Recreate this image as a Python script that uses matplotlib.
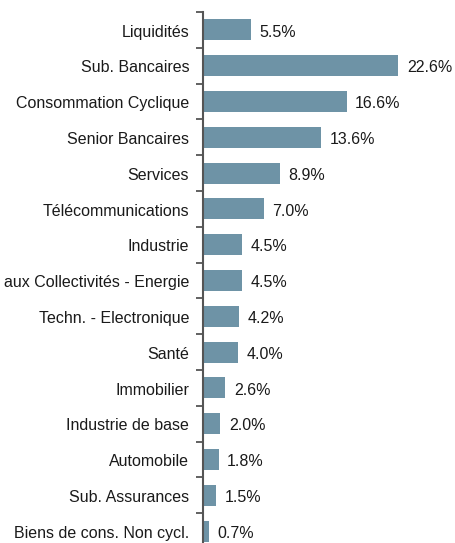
import matplotlib
matplotlib.use("Agg")
import matplotlib.pyplot as plt
import numpy as np

categories = ["Liquidités", "Sub. Bancaires", "Consommation Cyclique", "Senior Bancaires",
              "Services", "Télécommunications", "Industrie", "aux Collectivités - Energie",
              "Techn. - Electronique", "Santé", "Immobilier", "Industrie de base",
              "Automobile", "Sub. Assurances", "Biens de cons. Non cycl."]
values = [5.5, 22.6, 16.6, 13.6, 8.9, 7.0, 4.5, 4.5, 4.2, 4.0, 2.6, 2.0, 1.8, 1.5, 0.7]
value_labels = ["5.5%", "22.6%", "16.6%", "13.6%", "8.9%", "7.0%", "4.5%", "4.5%",
                "4.2%", "4.0%", "2.6%", "2.0%", "1.8%", "1.5%", "0.7%"]

plt.rcParams['font.family'] = ['Liberation Sans', 'DejaVu Sans']

W, H = 456, 543
fig = plt.figure(figsize=(W/100, H/100), dpi=100)
ax = fig.add_axes([203/W, (H-549)/H, (W-203)/W, 537/H])

n = len(categories)
y = np.arange(n)
ax.barh(y, values, height=0.59, color="#6e93a6")
ax.set_ylim(n-0.5, -0.5)
ax.set_xlim(0, (W-203)/8.65)

dy = 0.06
for yi, v, lab in zip(y, values, value_labels):
    ax.text(v + 1.0, yi + dy, lab, va="center", ha="left", fontsize=11.5, color="#1a1a1a")

for yi, c in zip(y, categories):
    ax.text(-1.6, yi + dy, c, va="center", ha="right", fontsize=11.5, color="#1a1a1a",
            transform=ax.transData, clip_on=False)

ax.set_yticks(np.arange(-0.5, n, 1.0))
ax.set_yticklabels([])
ax.tick_params(axis="y", length=5, width=1.3, color="#555555", direction="out")
ax.set_xticks([])
for s in ["top", "right", "bottom"]:
    ax.spines[s].set_visible(False)
ax.spines["left"].set_color("#555555")
ax.spines["left"].set_linewidth(1.5)

fig.savefig("out.png", dpi=100)
